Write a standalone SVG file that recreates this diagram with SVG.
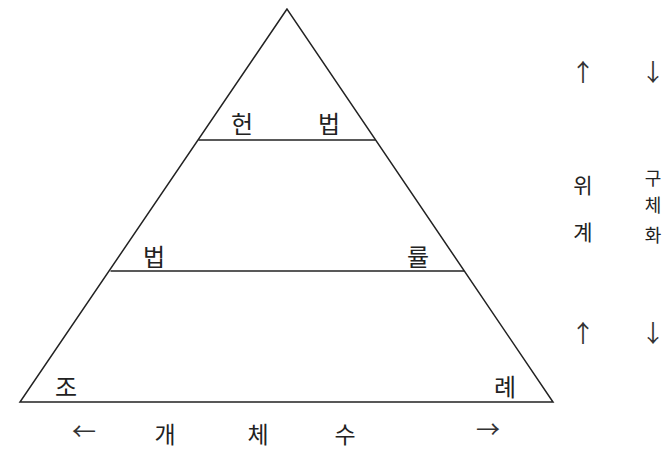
<svg xmlns="http://www.w3.org/2000/svg" width="667" height="450" viewBox="0 0 667 450">
<style>
.ln{stroke:#222;stroke-width:1.5;fill:none}
text{font-family:"Noto Sans CJK KR","Noto Sans",sans-serif;fill:#222;text-anchor:middle}
.lb{font-size:24px}
.bt{font-size:23px}
.ar{font-size:24px;fill:#333}
.sm{font-size:21px}
.xs{font-size:18px}
</style>
<rect width="667" height="450" fill="#fff"/>
<g id="connectors">
<path class="ln" d="M287,9 L20,402 L553,402 Z"/>
<line class="ln" x1="198.5" y1="140" x2="375.5" y2="140"/>
<line class="ln" x1="110.5" y1="271" x2="464" y2="271"/>
</g>
<g id="constitution"><text class="lb" x="242" y="133">헌</text><text class="lb" x="329" y="133">법</text></g>
<g id="law"><text class="lb" x="154" y="266">법</text><text class="lb" x="418" y="266">률</text></g>
<g id="ordinance"><text class="lb" x="66" y="396">조</text><text class="lb" x="505" y="396">례</text></g>
<g id="count-axis">
<text class="ar" x="84" y="440">←</text>
<text class="bt" x="165" y="443">개</text>
<text class="bt" x="258" y="443">체</text>
<text class="bt" x="345" y="443">수</text>
<text class="ar" x="488" y="438">→</text>
</g>
<g id="hierarchy">
<text class="ar" x="583" y="81">↑</text>
<text class="sm" x="583" y="193">위</text>
<text class="sm" x="583" y="240">계</text>
<text class="ar" x="583" y="342">↑</text>
</g>
<g id="concretization">
<text class="ar" x="653" y="81">↓</text>
<text class="xs" x="653" y="185">구</text>
<text class="xs" x="653" y="212">체</text>
<text class="xs" x="653" y="242">화</text>
<text class="ar" x="653" y="342">↓</text>
</g>
</svg>
